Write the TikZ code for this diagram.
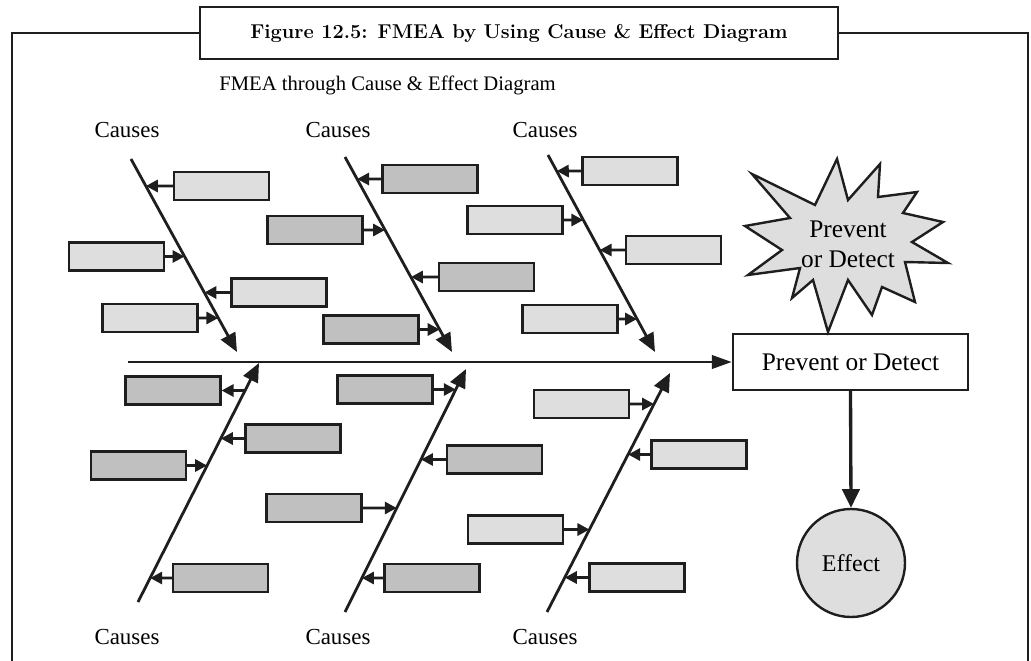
\documentclass[tikz,border=0pt]{standalone}
\usepackage{fontspec}
\newfontfamily\capfont{Liberation Serif}
\usetikzlibrary{arrows.meta}
\definecolor{ink}{HTML}{1E1E1E}
\definecolor{lightbox}{HTML}{DEDEDE}
\definecolor{darkbox}{HTML}{C0C0C0}
\newcommand\causefont{\capfont\fontsize{17.2}{20}\selectfont}
\newcommand\bigfont{\capfont\fontsize{19}{22.5}\selectfont}
\begin{document}
\begin{tikzpicture}[x=0.75pt,y=-0.75pt,
  frame/.style={draw=ink,line width=2pt},
  titlebox/.style={draw=ink,line width=2pt,fill=white,minimum width=478.5pt,minimum height=39pt,inner sep=0pt,
    font=\fontsize{15}{18}\selectfont\bfseries},
  cbox/.style={draw=ink,line width=1.6pt,minimum width=71.25pt,minimum height=21pt,inner sep=0pt},
  lbox/.style={cbox,fill=lightbox},
  dbox/.style={cbox,fill=darkbox},
  conn/.style={draw=ink,line width=2.2pt,-{Triangle[length=9pt,width=9pt]}},
  bone/.style={draw=ink,line width=2.1pt,-{Triangle[length=14pt,width=12pt]}},
  spine/.style={draw=ink,line width=2.2pt,-{Triangle[length=15pt,width=10pt]}},
  down/.style={draw=ink,line width=2.5pt,-{Triangle[length=14pt,width=13pt]}},
  lbl/.style={font=\causefont,inner sep=0pt},
  pbox/.style={draw=ink,line width=1.8pt,fill=white,minimum width=176.25pt,minimum height=42pt,inner sep=0pt,font=\bigfont},
]
\useasboundingbox (0,0) rectangle (1031,660);

% title and surrounding frame
\node[titlebox] (title) at (519,33) {Figure 12.5: FMEA by Using Cause \& Effect Diagram};
\draw[frame] (title.west) -- (12,33) -- (12,670);
\draw[frame] (title.east) -- (1028,33) -- (1028,670);

\node[anchor=west,inner sep=0pt,font=\capfont\fontsize{15.5}{18}\selectfont] (sub) at (219,85) {FMEA through Cause \& Effect Diagram};

% cause labels
\node[lbl] (ct1) at (127,130) {Causes};
\node[lbl] (ct2) at (338,130) {Causes};
\node[lbl] (ct3) at (545,130) {Causes};
\node[lbl] (cb1) at (127,637) {Causes};
\node[lbl] (cb2) at (338,637) {Causes};
\node[lbl] (cb3) at (545,637) {Causes};

% effect box, spine and result
\node[pbox] (pod) at (850.5,362) {Prevent or Detect};
\coordinate (sp) at (128,362);
\draw[spine] (sp) -- (pod.west);
\node[circle,draw=ink,line width=1.8pt,fill=lightbox,minimum size=81pt,inner sep=0pt,font=\capfont\fontsize{18}{20}\selectfont] (eff) at (851,563) {Effect};
\draw[down] (pod.south) -- (eff.north);

% starburst
\draw[draw=ink,line width=1.8pt,fill=lightbox,line join=miter]
  (752,174) -- (815,205) -- (837,159) -- (848,200) -- (880,164) -- (878,197) --
  (917,192) -- (903,213) -- (943,222) -- (912,242) -- (948,263) -- (905,262) --
  (915,302) -- (882,287) -- (872,315) -- (848,280) -- (828,332) -- (813,280) --
  (792,298) -- (800,268) -- (748,275) -- (782,250) -- (745,226) -- (790,218) -- cycle;
\node[align=center,font=\bigfont,inner sep=0pt] (burst) at (848,244) {Prevent\\or Detect};

% bones
\coordinate (tb1s) at (131,159); \coordinate (tb1e) at (237,352);
\coordinate (tb2s) at (345,157); \coordinate (tb2e) at (452,352);
\coordinate (tb3s) at (548,155); \coordinate (tb3e) at (655,352);
\coordinate (bb1s) at (138,602); \coordinate (bb1e) at (259,363);
\coordinate (bb2s) at (345,612); \coordinate (bb2e) at (466,369);
\coordinate (bb3s) at (547,612); \coordinate (bb3e) at (670,373);
\foreach \b in {tb1,tb2,tb3,bb1,bb2,bb3}
  \draw[bone] (\b s) -- (\b e);

% cause boxes
\node[lbox] (A1) at (221.5,186) {};
\node[lbox] (A2) at (116.5,256.5) {};
\node[lbox] (A3) at (279,292.5) {};
\node[lbox] (A4) at (150,318) {};
\node[dbox] (B1) at (430,179) {};
\node[dbox] (B2) at (315,230) {};
\node[dbox] (B3) at (486.5,277) {};
\node[dbox] (B4) at (371,329.5) {};
\node[lbox] (C1) at (630,171) {};
\node[lbox] (C2) at (515,220) {};
\node[lbox] (C3) at (673.5,250) {};
\node[lbox] (C4) at (570,319) {};
\node[dbox] (D1) at (173,390.5) {};
\node[dbox] (D2) at (293,438.5) {};
\node[dbox] (D3) at (138.5,465.5) {};
\node[dbox] (D4) at (220.5,578) {};
\node[dbox] (E1) at (385,389.5) {};
\node[dbox] (E2) at (494.5,459.5) {};
\node[dbox] (E3) at (314,508) {};
\node[dbox] (E4) at (432,578) {};
\node[lbox] (F1) at (581.5,404) {};
\node[lbox] (F2) at (699,454.5) {};
\node[lbox] (F3) at (515.5,529.5) {};
\node[lbox] (F4) at (637,577.5) {};

% connectors: boxes right of a bone point left onto it, boxes left of it point right
\foreach \n/\b in {A1/tb1,A3/tb1,B1/tb2,B3/tb2,C1/tb3,C3/tb3,D2/bb1,D4/bb1,E2/bb2,E4/bb2,F2/bb3,F4/bb3}
  \draw[conn] (\n.west) -- (intersection of \n.west--\n.east and \b s--\b e);
\foreach \n/\b in {A2/tb1,A4/tb1,B2/tb2,B4/tb2,C2/tb3,C4/tb3,D3/bb1,E1/bb2,E3/bb2,F1/bb3,F3/bb3}
  \draw[conn] (\n.east) -- (intersection of \n.west--\n.east and \b s--\b e);
% the one cause that points from the bone back to its box
\draw[conn] (intersection of D1.west--D1.east and bb1s--bb1e) -- (D1.east);
\end{tikzpicture}
\end{document}
